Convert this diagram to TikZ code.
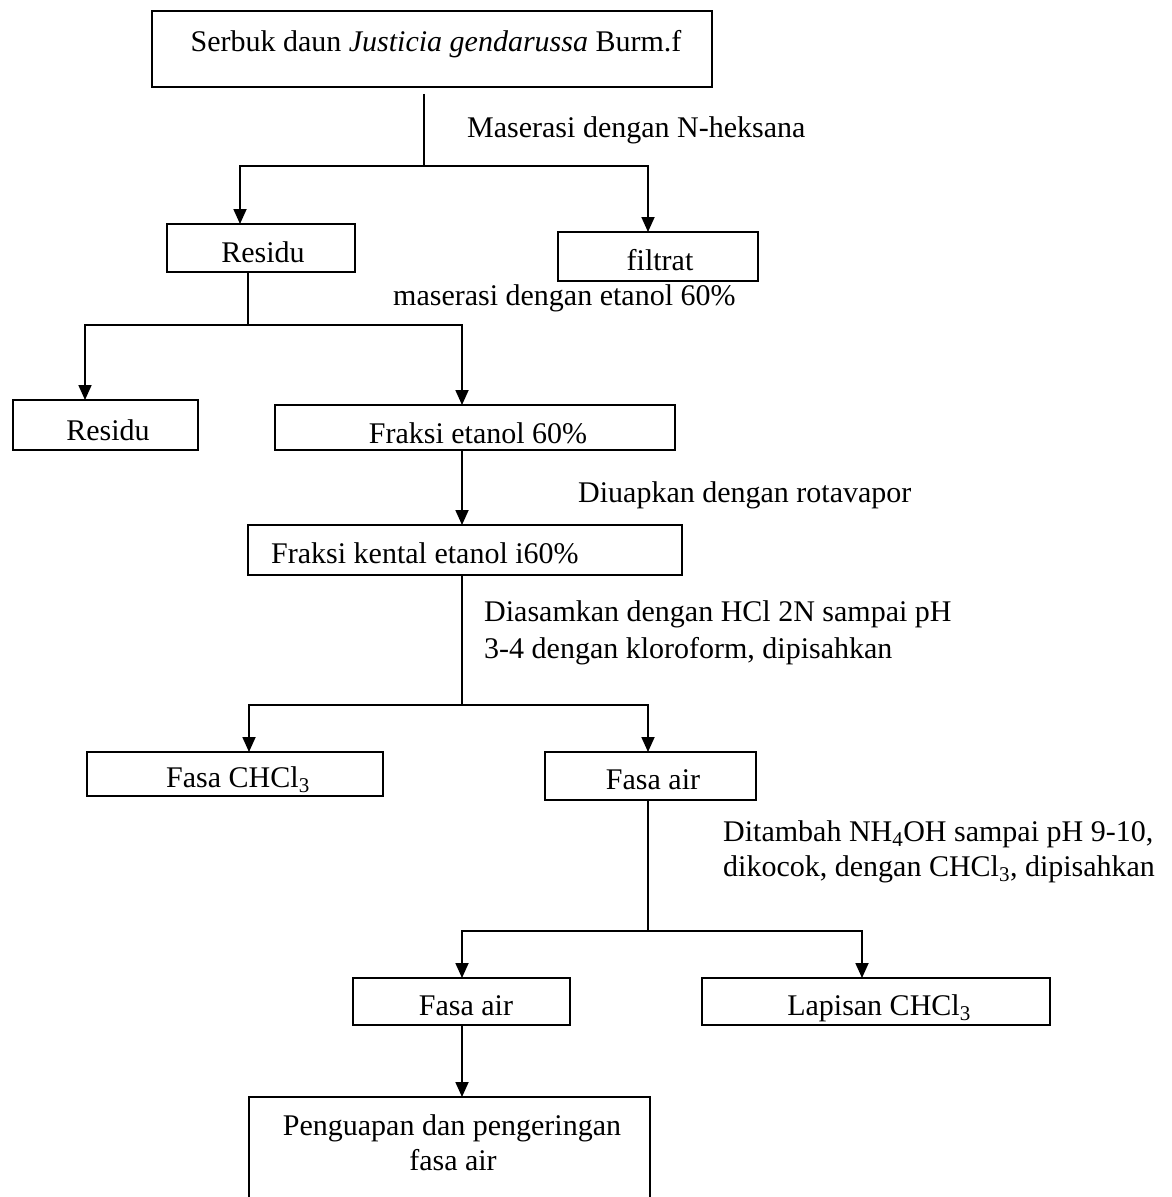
\documentclass[tikz,border=0pt]{standalone}
\usepackage{fontspec}
\setmainfont{Liberation Serif}
\usetikzlibrary{arrows.meta}
\begin{document}
\begin{tikzpicture}[x=1pt,y=-1pt,
  box/.style={draw, line width=1.8pt, inner sep=0pt},
  txt/.style={font=\fontsize{30}{37}\selectfont, inner sep=0pt},
  ln/.style={line width=1.8pt},
  arr/.style={line width=1.8pt, -{Triangle[length=15pt,width=13pt]}}]
\useasboundingbox (0,0) rectangle (1171,1197);
% boxes
\node[box, minimum width=560pt, minimum height=76pt] (top) at (432,49) {};
\node[box, minimum width=188pt, minimum height=48pt] (res1) at (261,248) {};
\node[box, minimum width=200pt, minimum height=49pt] (filt) at (658,256.5) {};
\node[box, minimum width=185pt, minimum height=50pt] (res2) at (105.5,425) {};
\node[box, minimum width=400pt, minimum height=45pt] (fe) at (475,427.5) {};
\node[box, minimum width=434pt, minimum height=50pt] (fk) at (465,550) {};
\node[box, minimum width=296pt, minimum height=44pt] (fc) at (235,774) {};
\node[box, minimum width=211pt, minimum height=48pt] (fa) at (650.5,776) {};
\node[box, minimum width=217pt, minimum height=47pt] (fa2) at (461.5,1001.5) {};
\node[box, minimum width=348pt, minimum height=47pt] (lap) at (876,1001.5) {};
\node[box, minimum width=401pt, minimum height=108pt] (pen) at (449.5,1151) {};
% box texts
\node[txt, anchor=base] (ttop) at (436,51) {Serbuk daun \textit{Justicia gendarussa} Burm.f};
\node[txt, anchor=base] (tres1) at (263,262) {Residu};
\node[txt, anchor=base] (tfilt) at (660,270) {filtrat};
\node[txt, anchor=base] (tres2) at (108,440) {Residu};
\node[txt, anchor=base] (tfe) at (478,443) {Fraksi etanol 60\%};
\node[txt, anchor=base west] (tfk) at (271,563) {Fraksi kental etanol i60\%};
\node[txt, anchor=base] (tfc) at (238,787) {Fasa CHCl\textsubscript{3}};
\node[txt, anchor=base] (tfa) at (653,789) {Fasa air};
\node[txt, anchor=base] (tfa2) at (466,1015) {Fasa air};
\node[txt, anchor=base] (tlap) at (879,1015) {Lapisan CHCl\textsubscript{3}};
\node[txt, anchor=base] (tpen1) at (452,1135) {Penguapan dan pengeringan};
\node[txt, anchor=base] (tpen2) at (453,1170) {fasa air};
% step labels
\node[txt, anchor=base west] (l1) at (467,137) {Maserasi dengan N-heksana};
\node[txt, anchor=base west] (l2) at (393,305) {maserasi dengan etanol 60\%};
\node[txt, anchor=base west] (l3) at (578,502) {Diuapkan dengan rotavapor};
\node[txt, anchor=base west] (l4a) at (484,621) {Diasamkan dengan HCl 2N sampai pH};
\node[txt, anchor=base west] (l4b) at (484,658) {3-4 dengan kloroform, dipisahkan};
\node[txt, anchor=base west] (l5a) at (723,841) {Ditambah NH\textsubscript{4}OH sampai pH 9-10,};
\node[txt, anchor=base west] (l5b) at (723,876) {dikocok, dengan CHCl\textsubscript{3}, dipisahkan};
% junctions and arrow targets
\coordinate (j1) at (424,166);
\coordinate (t1) at (240,224);
\coordinate (t2) at (648,232);
\coordinate (j2) at (248,325);
\coordinate (t3) at (85,400);
\coordinate (t4) at (462,405);
\coordinate (t5) at (462,525);
\coordinate (j4) at (462,705);
\coordinate (t6) at (249,752);
\coordinate (t7) at (648,752);
\coordinate (j5) at (648,931);
\coordinate (t8) at (462,978);
\coordinate (t9) at (862,978);
\coordinate (t10) at (462,1097);
% connectors
\draw[ln] ([yshift=-6pt]j1 |- top.south) -- (j1);
\draw[arr] (j1) -| (t1);
\draw[arr] (j1) -| (t2);
\draw[ln] (j2 |- res1.south) -- (j2);
\draw[arr] (j2) -| (t3);
\draw[arr] (j2) -| (t4);
\draw[arr] (t4 |- fe.south) -- (t5);
\draw[ln] (j4 |- fk.south) -- (j4);
\draw[arr] (j4) -| (t6);
\draw[arr] (j4) -| (t7);
\draw[ln] (j5 |- fa.south) -- (j5);
\draw[arr] (j5) -| (t8);
\draw[arr] (j5) -| (t9);
\draw[arr] (t8 |- fa2.south) -- (t10);
\end{tikzpicture}
\end{document}
